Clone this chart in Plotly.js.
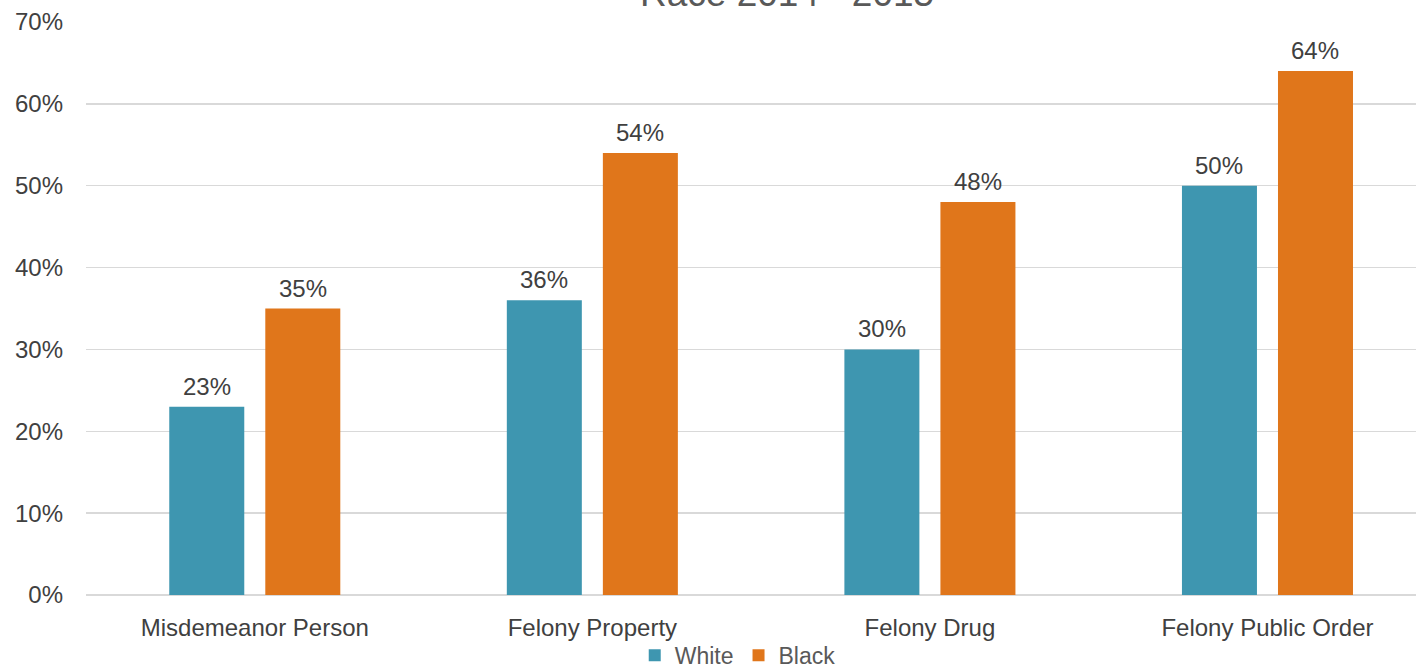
<!DOCTYPE html>
<html>
<head>
<meta charset="utf-8">
<script src="https://cdn.plot.ly/plotly-3.0.1.min.js"></script>
<style>html,body{margin:0;padding:0;background:#fff;}#chart{width:1416px;height:668px;}</style>
</head>
<body>
<div id="chart"></div>
<script>
const categories = ["Misdemeanor Person", "Felony Property", "Felony Drug", "Felony Public Order"];
const whiteValues = [23, 36, 30, 50];
const blackValues = [35, 54, 48, 64];
const seriesNames = ["White", "Black"];
const titleText = "Race 2014 - 2015";

const fontFam = "'Liberation Sans', Arial, sans-serif";
const colors = ["#3E96B0", "#E0761B"];
const traces = [
  {type: "bar", name: seriesNames[0], x: categories, y: whiteValues, marker: {color: colors[0]}, hoverinfo: "none"},
  {type: "bar", name: seriesNames[1], x: categories, y: blackValues, marker: {color: colors[1]}, hoverinfo: "none"}
];
const labelAnns = [];
[whiteValues, blackValues].forEach((vals, si) => {
  vals.forEach((v, i) => {
    labelAnns.push({x: categories[i], y: v, xref: "x", yref: "y", text: v + "%", showarrow: false,
      xanchor: "center", yanchor: "bottom", xshift: si === 0 ? -48 : 48, yshift: 5,
      font: {size: 24, color: "#404040", family: fontFam}});
  });
});
const layout = {
  width: 1416, height: 668,
  margin: {l: 86, r: 0, t: 22, b: 73},
  paper_bgcolor: "#fff", plot_bgcolor: "#fff",
  font: {family: fontFam, color: "#404040", size: 24},
  barmode: "group", bargap: 0.431, bargroupgap: 0.219,
  xaxis: {type: "category", range: [-0.5, 3.44], showgrid: false, showline: false, ticks: "",
          tickfont: {size: 24, color: "#404040"}, ticklabelstandoff: 16, automargin: false},
  yaxis: {range: [0, 70], dtick: 10, ticksuffix: "%", showgrid: true, gridcolor: "#d9d9d9", gridwidth: 1.3,
          zeroline: true, zerolinecolor: "#d9d9d9", zerolinewidth: 1.3, showline: false, ticks: "",
          tickfont: {size: 24, color: "#404040"}, ticklabelstandoff: 22, automargin: false},
  showlegend: true,
  legend: {orientation: "h", xref: "container", yref: "container", x: 0.521, xanchor: "center", y: 0.019, yanchor: "middle",
           bgcolor: "rgba(0,0,0,0)", font: {size: 23, color: "#595959"}, itemwidth: 30, traceorder: "normal"},
  annotations: [{text: titleText, xref: "paper", yref: "paper", x: (787 - 86) / 1330, y: 1 + (22 - 16) / 573,
                 xanchor: "center", yanchor: "bottom", showarrow: false, font: {size: 37, color: "#595959", family: fontFam}}]
    .concat(labelAnns)
};
Plotly.newPlot("chart", traces, layout, {displayModeBar: false, staticPlot: true});
</script>
</body>
</html>
